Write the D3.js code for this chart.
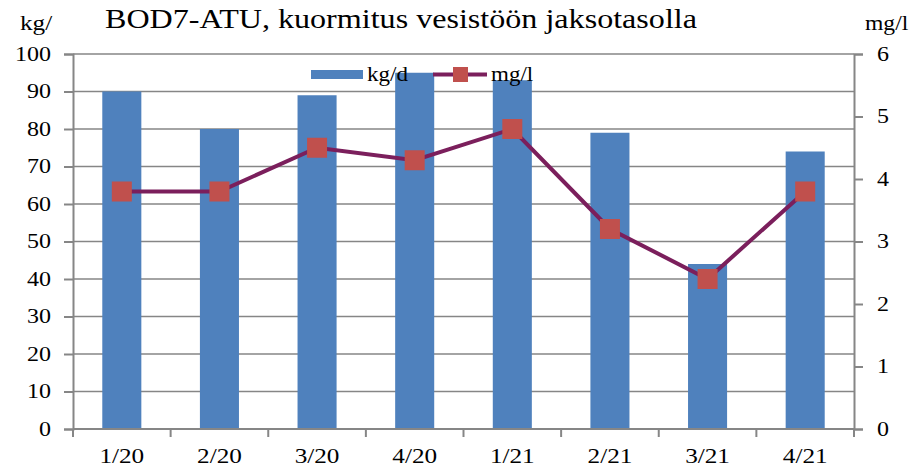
<!DOCTYPE html>
<html>
<head>
<meta charset="utf-8">
<script src="https://cdn.jsdelivr.net/npm/d3@7"></script>
<style>
  body { margin: 0; background: #fff; }
  svg text { font-family: "Liberation Serif", "Times New Roman", serif; fill: #000; }
</style>
</head>
<body>
<script>
// chart data
var quarters = ["1/20", "2/20", "3/20", "4/20", "1/21", "2/21", "3/21", "4/21"]
var loadKg = [90, 80, 89, 95, 93, 79, 44, 74]
var concMg = [3.8, 3.8, 4.5, 4.3, 4.8, 3.2, 2.4, 3.8]
var leftTicks = [0, 10, 20, 30, 40, 50, 60, 70, 80, 90, 100]
var rightTicks = [0, 1, 2, 3, 4, 5, 6]

var width = 915, height = 470
var margin = {top: 54, right: 61, bottom: 41, left: 73}
var serif = "'Liberation Serif', 'Times New Roman', serif"

var svg = d3.select("body").append("svg")
  .attr("width", width)
  .attr("height", height)

var x = d3.scaleBand()
  .domain(quarters)
  .range([margin.left, width - margin.right])
  .paddingInner(0.6)
  .paddingOuter(0.3)

var yL = d3.scaleLinear().domain([0, 100]).range([height - margin.bottom, margin.top])
var yR = d3.scaleLinear().domain([0, 6]).range([height - margin.bottom, margin.top])

var grey = "#868686"

// the original text is a bit wider than the font, stretch it
function stretch(sel, k) {
  sel.each(function() {
    var w = this.getComputedTextLength()
    d3.select(this).attr("textLength", w * k).attr("lengthAdjust", "spacingAndGlyphs")
  })
}

// gridlines
svg.append("g")
  .selectAll("line")
  .data(leftTicks.slice(1))
  .join("line")
    .attr("x1", margin.left)
    .attr("x2", width - margin.right)
    .attr("y1", d => yL(d))
    .attr("y2", d => yL(d))
    .attr("stroke", grey)
    .attr("stroke-width", 1.5)

// bars
svg.append("g")
  .selectAll("rect")
  .data(loadKg)
  .join("rect")
    .attr("x", (d, i) => x(quarters[i]))
    .attr("y", d => yL(d))
    .attr("width", x.bandwidth())
    .attr("height", d => yL(0) - yL(d))
    .attr("fill", "#4F81BD")

// axes
var axisL = svg.append("g")
  .attr("transform", "translate(" + margin.left + ",0)")
  .call(d3.axisLeft(yL).tickValues(leftTicks).tickSize(9).tickPadding(13))
var axisR = svg.append("g")
  .attr("transform", "translate(" + (width - margin.right) + ",0)")
  .call(d3.axisRight(yR).tickValues(rightTicks).tickFormat(d3.format("d")).tickSize(9).tickPadding(14))

// x axis: ticks at category boundaries
var bounds = d3.range(quarters.length + 1).map(i => margin.left + i * (width - margin.left - margin.right) / quarters.length)
var axisB = svg.append("g")
axisB.append("line")
  .attr("x1", margin.left).attr("x2", width - margin.right)
  .attr("y1", yL(0)).attr("y2", yL(0))
  .attr("stroke", grey).attr("stroke-width", 2)
axisB.selectAll("line.tk")
  .data(bounds)
  .join("line")
    .attr("class", "tk")
    .attr("x1", d => d).attr("x2", d => d)
    .attr("y1", yL(0)).attr("y2", yL(0) + 8)
    .attr("stroke", grey).attr("stroke-width", 2)
axisB.selectAll("text")
  .data(quarters)
  .join("text")
    .attr("x", d => x(d) + x.bandwidth() / 2)
    .attr("y", yL(0) + 34)
    .attr("text-anchor", "middle")
    .style("font-family", serif)
    .style("font-size", "21px")
    .text(d => d)
    .call(stretch, 1.2)

;[axisL, axisR].forEach(function(a){
  a.attr("font-family", serif).attr("font-size", 20)
  a.select(".domain").attr("stroke", grey).attr("stroke-width", 2)
  a.selectAll(".tick line").attr("stroke", grey).attr("stroke-width", 2)
  a.selectAll(".tick text")
    .style("font-family", serif)
    .style("font-size", "20px")
    .attr("fill", "#000")
    .call(stretch, 1.2)
})

// line series
var line = d3.line()
  .x((d, i) => x(quarters[i]) + x.bandwidth() / 2)
  .y(d => yR(d))
svg.append("path")
  .datum(concMg)
  .attr("d", line)
  .attr("fill", "none")
  .attr("stroke", "#7B1F5C")
  .attr("stroke-width", 4)
svg.append("g")
  .selectAll("rect")
  .data(concMg)
  .join("rect")
    .attr("x", (d, i) => x(quarters[i]) + x.bandwidth() / 2 - 10)
    .attr("y", d => yR(d) - 10)
    .attr("width", 20)
    .attr("height", 20)
    .attr("fill", "#C0504D")

// legend
var leg = svg.append("g")
leg.append("rect")
  .attr("x", 311).attr("y", 70).attr("width", 52).attr("height", 9)
  .attr("fill", "#4F81BD")
leg.append("text")
  .attr("x", 367).attr("y", 81)
  .style("font-size", "20px")
  .text("kg/d")
  .call(stretch, 1.15)
leg.append("line")
  .attr("x1", 433).attr("x2", 487).attr("y1", 74.5).attr("y2", 74.5)
  .attr("stroke", "#7B1F5C").attr("stroke-width", 4)
leg.append("rect")
  .attr("x", 453).attr("y", 67).attr("width", 15).attr("height", 15)
  .attr("fill", "#C0504D")
leg.append("text")
  .attr("x", 491).attr("y", 81)
  .style("font-size", "20px")
  .text("mg/l")
  .call(stretch, 1.15)

// title and axis units
svg.append("text")
  .attr("x", 105).attr("y", 28)
  .attr("textLength", 592)
  .attr("lengthAdjust", "spacingAndGlyphs")
  .style("font-size", "27px")
  .text("BOD7-ATU, kuormitus vesistöön jaksotasolla")
svg.append("text")
  .attr("x", 20).attr("y", 30)
  .style("font-size", "21px")
  .text("kg/")
  .call(stretch, 1.2)
svg.append("text")
  .attr("x", 865).attr("y", 30)
  .style("font-size", "20px")
  .text("mg/l")
  .call(stretch, 1.18)
</script>
</body>
</html>
